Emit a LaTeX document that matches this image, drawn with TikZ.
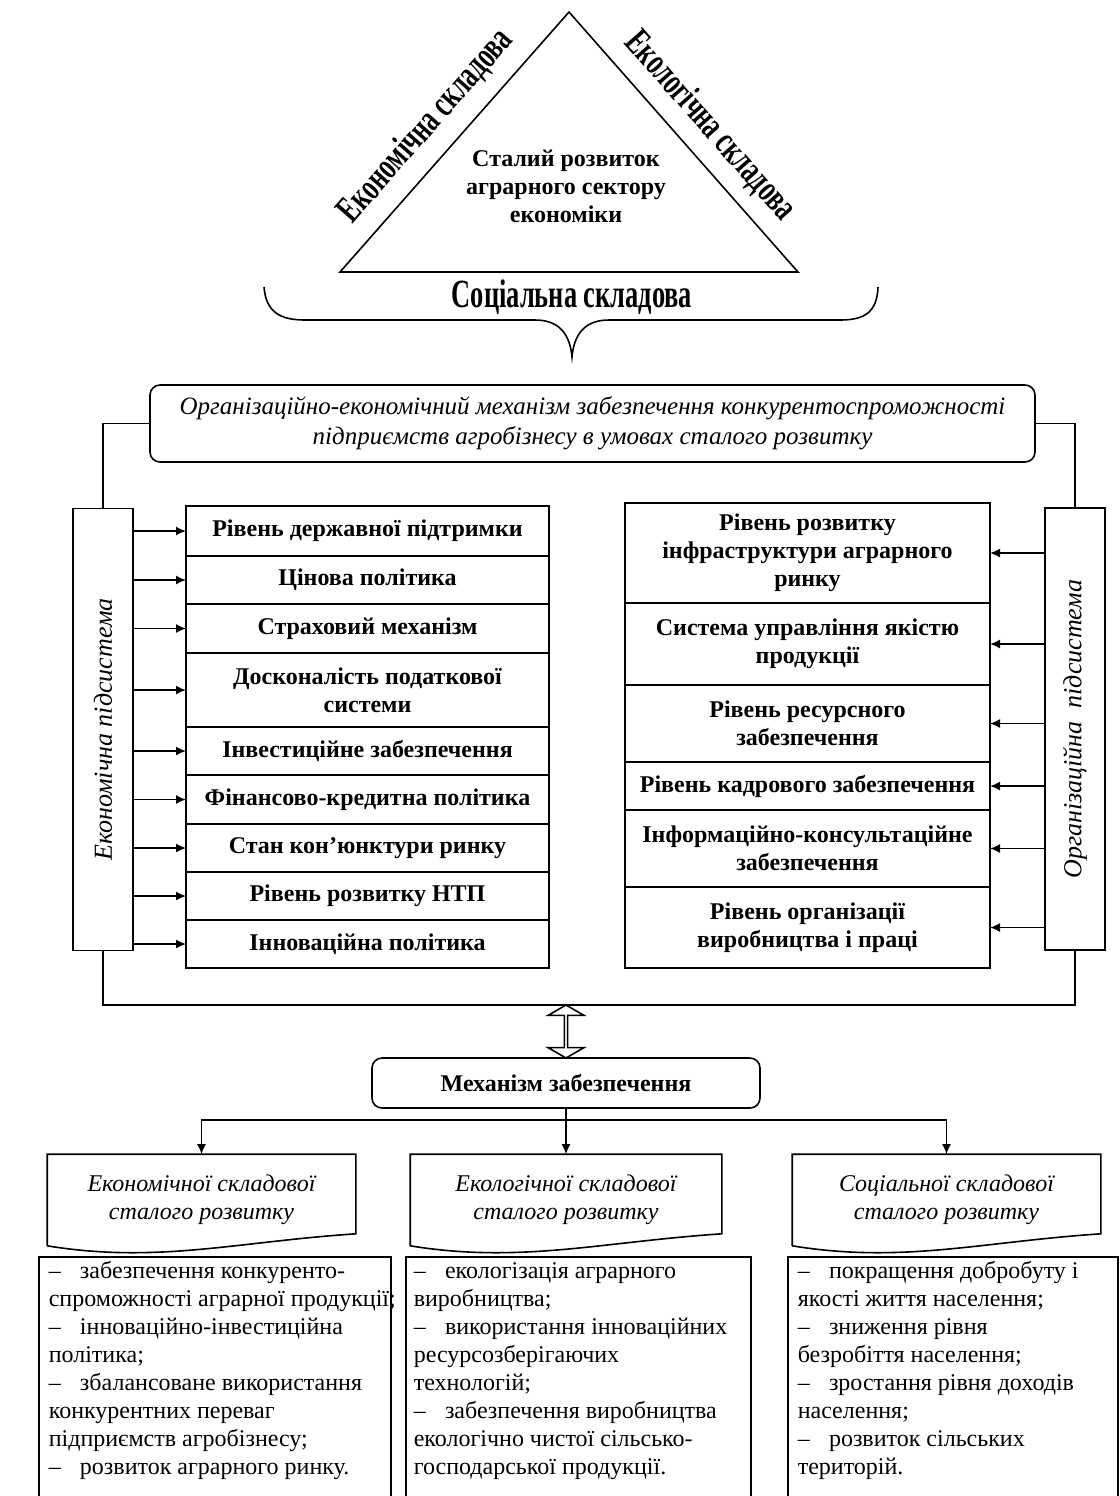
\documentclass[tikz,border=0pt]{standalone}
\usepackage{fontspec}
\setmainfont{Liberation Serif}
\newfontfamily\narrowfont[FakeStretch=0.66]{Liberation Serif}
\usetikzlibrary{arrows.meta,positioning,shapes.arrows}

\begin{document}
\begin{tikzpicture}[x=0.5pt,y=-0.5pt,>={Latex[length=5pt,width=4.5pt]},line width=0.8pt,
  every node/.style={font=\fontsize{12}{14}\selectfont},
  cell/.style={draw,outer sep=0pt,inner sep=2pt,align=center,font=\fontsize{12}{14}\selectfont\bfseries},
  lcell/.style={cell,minimum width=181.5pt},
  rcell/.style={cell,minimum width=182.5pt},
  roundbox/.style={draw,rounded corners=5pt,align=center},
  docbox/.style={minimum height=45pt,align=center,font=\fontsize{12}{14}\selectfont\itshape},
  listbox/.style={draw,anchor=north west,minimum height=127pt},
  listtext/.style={anchor=north west,align=left,inner sep=0pt},
  sub/.style={draw,minimum height=221pt,minimum width=30pt,inner sep=0pt,font=\fontsize{13}{15}\selectfont\itshape},
  side/.style={font=\narrowfont\bfseries\fontsize{19}{22}\selectfont,inner sep=0pt}]
\useasboundingbox (0,0) rectangle (1120,1496);

\coordinate (apex) at (569,12);
\coordinate (bl) at (340,272);
\coordinate (br) at (798,272);
\draw (apex) -- (br) -- (bl) -- cycle;
\node[align=center,font=\fontsize{12}{14}\selectfont\bfseries] (goal) at (566,186) {Сталий розвиток\\аграрного сектору\\економіки};
\node[side,rotate=48.6] (econ) at (426,126) {Економічна складова};
\node[side,rotate=-48.6] (ecol) at (710,126) {Екологічна складова};
\node[side,font=\narrowfont\bfseries\fontsize{20}{22}\selectfont] (soc) at (572,297) {Соціальна складова};
\draw (264,287) .. controls (266,312) and (280,320) .. (305,320) -- (535,320) .. controls (560,320) and (570,335) .. (572,357) .. controls (574,335) and (584,320) .. (609,320) -- (840,320) .. controls (865,320) and (877,312) .. (878,287);

\node[roundbox,minimum width=442.5pt,minimum height=38.5pt,font=\fontsize{12.5}{15}\selectfont\itshape] (mech) at (592.5,423.5) {Організаційно-економічний механізм забезпечення конкурентоспроможності\\підприємств агробізнесу в умовах сталого розвитку};

\node[sub] (lsub) at (103,729.5) {\rotatebox{90}{Економічна підсистема}};
\node[sub] (rsub) at (1075,729) {\rotatebox{90}{Організаційна\ \ підсистема}};

\node[lcell,minimum height=25pt,anchor=north] (l1) at (367.5,506) {Рівень державної підтримки};
\node[lcell,minimum height=24pt,below=0pt of l1] (l2) {Цінова політика};
\node[lcell,minimum height=24.5pt,below=0pt of l2] (l3) {Страховий механізм};
\node[lcell,minimum height=37pt,below=0pt of l3] (l4) {Досконалість податкової\\системи};
\node[lcell,minimum height=24pt,below=0pt of l4] (l5) {Інвестиційне забезпечення};
\node[lcell,minimum height=24.5pt,below=0pt of l5] (l6) {Фінансово-кредитна політика};
\node[lcell,minimum height=24pt,below=0pt of l6] (l7) {Стан кон’юнктури ринку};
\node[lcell,minimum height=24pt,below=0pt of l7] (l8) {Рівень розвитку НТП};
\node[lcell,minimum height=24pt,below=0pt of l8] (l9) {Інноваційна політика};

\node[rcell,minimum height=50pt,anchor=north] (r1) at (807.5,503) {Рівень розвитку\\інфраструктури аграрного\\ринку};
\node[rcell,minimum height=41pt,below=0pt of r1] (r2) {Система управління якістю\\продукції};
\node[rcell,minimum height=38.5pt,below=0pt of r2] (r3) {Рівень ресурсного\\забезпечення};
\node[rcell,minimum height=24pt,below=0pt of r3] (r4) {Рівень кадрового забезпечення};
\node[rcell,minimum height=38.5pt,below=0pt of r4] (r5) {Інформаційно-консультаційне\\забезпечення};
\node[rcell,minimum height=40.5pt,below=0pt of r5] (r6) {Рівень організації\\виробництва і праці};

\foreach \i in {1,...,9} \draw[->] (lsub.east |- l\i) -- (l\i.west);
\foreach \i in {1,...,6} \draw[->] (rsub.west |- r\i) -- (r\i.east);

\draw (mech.west) -| (lsub.north);
\draw (mech.east) -| (rsub.north);
\coordinate (fbot) at (566,1005);
\draw (lsub.south) |- (fbot) -| (rsub.south);

\node[double arrow,draw,rotate=90,minimum height=26.5pt,minimum width=18pt,double arrow head extend=4pt,double arrow tip angle=120,inner sep=0pt] (link) at (566,1031.5) {};
\node[roundbox,minimum width=194pt,minimum height=25pt,font=\fontsize{12}{14}\selectfont\bfseries] (ensure) at (566,1083) {Механізм забезпечення};

\node[docbox,minimum width=153.5pt] (docL) at (201.5,1200) {Економічної складової\\сталого розвитку};
\node[docbox,minimum width=155pt] (docC) at (566,1200) {Екологічної складової\\сталого розвитку};
\node[docbox,minimum width=153.5pt] (docR) at (946.5,1200) {Соціальної складової\\сталого розвитку};
\foreach \d in {docL,docC,docR}
  \draw (\d.south west) -- (\d.north west) -- (\d.north east) -- ([yshift=6pt]\d.south east) .. controls ([xshift=-60pt,yshift=2pt]\d.south east) and ([xshift=55pt,yshift=-9pt]\d.south west) .. (\d.south west);

\coordinate (split) at (566,1120);
\draw (ensure.south) -- (split);
\draw[->] (split) -- (docC.north);
\draw[->] (split) -| (docL.north);
\draw[->] (split) -| (docR.north);

\node[listbox,minimum width=176pt] (lstL) at (38,1256) {};
\node[listbox,minimum width=172.5pt] (lstC) at (405,1256) {};
\node[listbox,minimum width=165pt] (lstR) at (787,1256) {};
\node[listtext] (txtL) at ([xshift=5pt,yshift=-1pt]lstL.north west) {\strut–\hspace{0.8em}забезпечення конкуренто-\\спроможності аграрної продукції;\\–\hspace{0.8em}інноваційно-інвестиційна\\політика;\\–\hspace{0.8em}збалансоване використання\\конкурентних переваг\\підприємств агробізнесу;\\–\hspace{0.8em}розвиток аграрного ринку.};
\node[listtext] (txtC) at ([xshift=4pt,yshift=-1pt]lstC.north west) {\strut–\hspace{0.8em}екологізація аграрного\\виробництва;\\–\hspace{0.8em}використання інноваційних\\ресурсозберігаючих\\технологій;\\–\hspace{0.8em}забезпечення виробництва\\екологічно чистої сільсько-\\господарської продукції.};
\node[listtext] (txtR) at ([xshift=5pt,yshift=-1pt]lstR.north west) {\strut–\hspace{0.8em}покращення добробуту і\\якості життя населення;\\–\hspace{0.8em}зниження рівня\\безробіття населення;\\–\hspace{0.8em}зростання рівня доходів\\населення;\\–\hspace{0.8em}розвиток сільських\\територій.};
\end{tikzpicture}
\end{document}
